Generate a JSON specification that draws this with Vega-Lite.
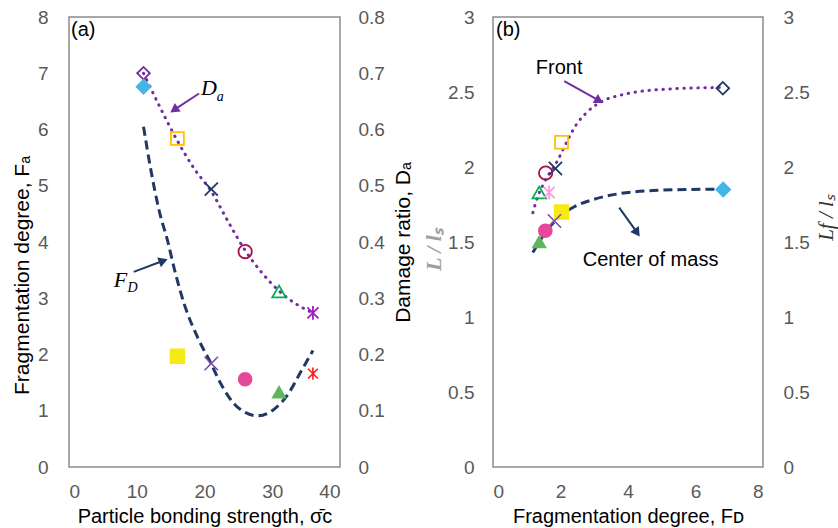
{
  "$schema": "https://vega.github.io/schema/vega-lite/v6.json",
  "padding": {"left": 10, "top": 7, "right": 0, "bottom": 0},
  "config": {
    "font": "Liberation Sans",
    "view": {"stroke": "#8c8c8c", "strokeWidth": 1.5},
    "axis": {"grid": false, "domain": false, "ticks": false, "tickSize": 0, "labelFont": "Liberation Sans", "labelFontSize": 19, "labelColor": "#595959", "titleFont": "Liberation Sans", "titleFontSize": 20, "titleFontWeight": "normal", "titleColor": "#000000"},
    "concat": {"spacing": 6}
  },
  "datasets": {
    "aF": [
      {"s": 11, "F": 6.05}, {"s": 12.1, "F": 5.27}, {"s": 13.3, "F": 4.56}, {"s": 14.6, "F": 4.0}, {"s": 15.55, "F": 3.52},
      {"s": 17.0, "F": 2.9}, {"s": 19.0, "F": 2.3}, {"s": 21.0, "F": 1.83}, {"s": 22.45, "F": 1.47}, {"s": 24.4, "F": 1.12},
      {"s": 26.0, "F": 0.97}, {"s": 27.9, "F": 0.91}, {"s": 30.3, "F": 1.03}, {"s": 32.3, "F": 1.29}, {"s": 34.3, "F": 1.71}, {"s": 36.0, "F": 2.07}
    ],
    "aD": [
      {"s": 11, "D": 0.70}, {"s": 13.5, "D": 0.638}, {"s": 16, "D": 0.58}, {"s": 18.5, "D": 0.53}, {"s": 21, "D": 0.49},
      {"s": 23.5, "D": 0.436}, {"s": 26, "D": 0.385}, {"s": 28.5, "D": 0.345}, {"s": 31, "D": 0.313}, {"s": 33.5, "D": 0.29}, {"s": 36, "D": 0.274}
    ],
    "aFilled": [
      {"s": 11, "F": 6.76, "k": "k11"}, {"s": 16, "F": 1.97, "k": "k16"}, {"s": 21, "F": 1.84, "k": "k21"},
      {"s": 26, "F": 1.56, "k": "k26"}, {"s": 31, "F": 1.33, "k": "k31"}, {"s": 36, "F": 1.66, "k": "k36"}
    ],
    "aOpen": [
      {"s": 11, "D": 0.70, "k": "k11"}, {"s": 16, "D": 0.584, "k": "k16"}, {"s": 21, "D": 0.494, "k": "k21"},
      {"s": 26, "D": 0.383, "k": "k26"}, {"s": 31, "D": 0.312, "k": "k31"}, {"s": 36, "D": 0.274, "k": "k36"}
    ],
    "aArrows": [
      {"s": 19.2, "F": 6.64, "s2": 15.5, "F2": 6.35, "c": "Da"},
      {"s": 9.55, "F": 3.47, "s2": 13.92, "F2": 3.667, "c": "FD"}
    ],
    "aHeadD": [{"s": 15.5, "F": 6.35}],
    "aHeadF": [{"s": 13.92, "F": 3.667}],
    "aBig": [{"s": 19.5, "F": 6.61, "t": "D"}, {"s": 6.6, "F": 3.2, "t": "F"}],
    "aSmall": [{"s": 21.8, "F": 6.51, "t": "a"}, {"s": 8.65, "F": 3.12, "t": "D"}],
    "aTag": [{"s": 0.3, "F": 7.66, "t": "(a)"}],
    "bCenter": [
      {"fd": 1.18, "L": 1.43}, {"fd": 1.37, "L": 1.5}, {"fd": 1.55, "L": 1.565}, {"fd": 1.82, "L": 1.635}, {"fd": 2.06, "L": 1.685},
      {"fd": 2.41, "L": 1.735}, {"fd": 3.0, "L": 1.785}, {"fd": 3.74, "L": 1.822}, {"fd": 4.73, "L": 1.843}, {"fd": 5.7, "L": 1.85}, {"fd": 6.8, "L": 1.852}
    ],
    "bFront": [
      {"fd": 1.18, "L": 1.695}, {"fd": 1.32, "L": 1.8}, {"fd": 1.47, "L": 1.875}, {"fd": 1.62, "L": 1.94}, {"fd": 1.77, "L": 1.99},
      {"fd": 1.92, "L": 2.045}, {"fd": 2.06, "L": 2.11}, {"fd": 2.26, "L": 2.2}, {"fd": 2.46, "L": 2.28}, {"fd": 2.76, "L": 2.36},
      {"fd": 3.25, "L": 2.44}, {"fd": 3.8, "L": 2.48}, {"fd": 4.24, "L": 2.5}, {"fd": 5.22, "L": 2.52}, {"fd": 6.0, "L": 2.527}, {"fd": 6.81, "L": 2.53}
    ],
    "bFilled": [
      {"fd": 6.82, "L": 1.85, "k": "k11"}, {"fd": 2.03, "L": 1.70, "k": "k16"}, {"fd": 1.82, "L": 1.64, "k": "k21"},
      {"fd": 1.55, "L": 1.575, "k": "k26"}, {"fd": 1.37, "L": 1.5, "k": "k31"}
    ],
    "bOpen": [
      {"fd": 6.81, "L": 2.525, "k": "k11"}, {"fd": 2.03, "L": 2.165, "k": "k16"}, {"fd": 1.85, "L": 1.99, "k": "k21"},
      {"fd": 1.56, "L": 1.96, "k": "k26"}, {"fd": 1.37, "L": 1.83, "k": "k31"}, {"fd": 1.66, "L": 1.83, "k": "k36"}
    ],
    "bArrows": [
      {"fd": 2.11, "L": 2.573, "fd2": 3.147, "L2": 2.442, "c": "front"},
      {"fd": 3.74, "L": 1.729, "fd2": 4.27, "L2": 1.562, "c": "center"}
    ],
    "bHeadFront": [{"fd": 3.147, "L": 2.442}],
    "bHeadCenter": [{"fd": 4.27, "L": 1.562}],
    "bText": [{"fd": 1.27, "L": 2.622, "t": "Front"}, {"fd": 2.66, "L": 1.34, "t": "Center of mass"}, {"fd": 0.09, "L": 2.873, "t": "(b)"}]
  },
  "hconcat": [
    {
      "width": 271,
      "height": 450,
      "layer": [
        {
          "data": {"name": "aF"},
          "mark": {"type": "line", "color": "#1f3864", "strokeWidth": 3, "strokeDash": [9, 5], "interpolate": "monotone"},
          "encoding": {
            "x": {"field": "s", "type": "quantitative", "scale": {"domain": [0, 40]}, "axis": {"values": [0, 10, 20, 30, 40], "title": "Particle bonding strength,  σ̄ᴄ", "labelPadding": 15, "titlePadding": 5}},
            "y": {"field": "F", "type": "quantitative", "scale": {"domain": [0, 8]}, "axis": {"orient": "left", "values": [0, 1, 2, 3, 4, 5, 6, 7, 8], "title": "Fragmentation degree,   Fₐ", "titleFontSize": 21, "labelPadding": 21, "titlePadding": 5, "titleY": 258}}
          }
        },
        {
          "data": {"name": "aD"},
          "mark": {"type": "line", "color": "#7030a0", "strokeWidth": 3, "strokeDash": [0.5, 6.5], "strokeCap": "round", "interpolate": "monotone"},
          "encoding": {
            "x": {"field": "s", "type": "quantitative", "scale": {"domain": [0, 40]}},
            "y": {"field": "D", "type": "quantitative", "scale": {"domain": [0, 0.8]}, "axis": {"orient": "right", "values": [0, 0.1, 0.2, 0.3, 0.4, 0.5, 0.6, 0.7, 0.8], "format": "~g", "title": "Damage ratio,  Dₐ", "titleFontSize": 21, "titleAngle": 270, "titleBaseline": "top", "labelPadding": 18, "titlePadding": 8}}
          }
        },
        {
          "data": {"name": "aOpen"},
          "mark": {"type": "point", "filled": false, "strokeWidth": 1.8, "opacity": 1},
          "encoding": {
            "x": {"field": "s", "type": "quantitative", "scale": {"domain": [0, 40]}},
            "y": {"field": "D", "type": "quantitative", "scale": {"domain": [0, 0.8]}, "axis": null},
            "shape": {"field": "k", "type": "nominal", "legend": null, "scale": {"domain": ["k11", "k16", "k21", "k26", "k31", "k36"], "range": ["diamond", "square", "M-1,-1L1,1M-1,1L1,-1", "circle", "triangle-up", "M-0.8,-0.8L0.8,0.8M-0.8,0.8L0.8,-0.8M0,-1L0,1"]}},
            "stroke": {"field": "k", "type": "nominal", "legend": null, "scale": {"domain": ["k11", "k16", "k21", "k26", "k31", "k36"], "range": ["#7030a0", "#ffc000", "#1f3864", "#a5114a", "#00b050", "#a020c0"]}},
            "size": {"field": "k", "type": "nominal", "legend": null, "scale": {"domain": ["k11", "k16", "k21", "k26", "k31", "k36"], "range": [160, 190, 196, 220, 230, 210]}}
          }
        },
        {
          "data": {"name": "aFilled"},
          "mark": {"type": "point", "filled": true, "strokeWidth": 1.6, "opacity": 1},
          "encoding": {
            "x": {"field": "s", "type": "quantitative", "scale": {"domain": [0, 40]}},
            "y": {"field": "F", "type": "quantitative", "scale": {"domain": [0, 8]}, "axis": null},
            "shape": {"field": "k", "type": "nominal", "legend": null, "scale": {"domain": ["k11", "k16", "k21", "k26", "k31", "k36"], "range": ["diamond", "square", "M-1,-1L1,1M-1,1L1,-1", "circle", "triangle-up", "M-0.8,-0.8L0.8,0.8M-0.8,0.8L0.8,-0.8M0,-1L0,1"]}},
            "fill": {"field": "k", "type": "nominal", "legend": null, "scale": {"domain": ["k11", "k16", "k21", "k26", "k31", "k36"], "range": ["#45b5e8", "#f5ea14", "#7b4aa8", "#e6479a", "#5cb85c", "#ff1a1a"]}},
            "stroke": {"field": "k", "type": "nominal", "legend": null, "scale": {"domain": ["k11", "k16", "k21", "k26", "k31", "k36"], "range": ["#45b5e8", "#f5ea14", "#7b4aa8", "#e6479a", "#5cb85c", "#ff1a1a"]}},
            "size": {"field": "k", "type": "nominal", "legend": null, "scale": {"domain": ["k11", "k16", "k21", "k26", "k31", "k36"], "range": [200, 150, 196, 200, 220, 210]}}
          }
        },
        {
          "data": {"name": "aArrows"},
          "mark": {"type": "rule", "strokeWidth": 2},
          "encoding": {
            "x": {"field": "s", "type": "quantitative", "scale": {"domain": [0, 40]}},
            "x2": {"field": "s2"},
            "y": {"field": "F", "type": "quantitative", "scale": {"domain": [0, 8]}, "axis": null},
            "y2": {"field": "F2"},
            "color": {"field": "c", "type": "nominal", "legend": null, "scale": {"domain": ["Da", "FD"], "range": ["#7030a0", "#1f3864"]}}
          }
        },
        {
          "data": {"name": "aHeadD"},
          "mark": {"type": "point", "shape": "triangle-up", "filled": true, "color": "#7030a0", "size": 110, "angle": 235.6, "opacity": 1},
          "encoding": {
            "x": {"field": "s", "type": "quantitative", "scale": {"domain": [0, 40]}},
            "y": {"field": "F", "type": "quantitative", "scale": {"domain": [0, 8]}, "axis": null}
          }
        },
        {
          "data": {"name": "aHeadF"},
          "mark": {"type": "point", "shape": "triangle-up", "filled": true, "color": "#1f3864", "size": 110, "angle": 69.6, "opacity": 1},
          "encoding": {
            "x": {"field": "s", "type": "quantitative", "scale": {"domain": [0, 40]}},
            "y": {"field": "F", "type": "quantitative", "scale": {"domain": [0, 8]}, "axis": null}
          }
        },
        {
          "data": {"name": "aBig"},
          "mark": {"type": "text", "font": "Liberation Serif", "fontStyle": "italic", "fontSize": 22, "align": "left", "baseline": "alphabetic", "color": "#000000"},
          "encoding": {
            "x": {"field": "s", "type": "quantitative", "scale": {"domain": [0, 40]}},
            "y": {"field": "F", "type": "quantitative", "scale": {"domain": [0, 8]}, "axis": null},
            "text": {"field": "t"}
          }
        },
        {
          "data": {"name": "aSmall"},
          "mark": {"type": "text", "font": "Liberation Serif", "fontStyle": "italic", "fontSize": 14, "align": "left", "baseline": "alphabetic", "color": "#000000"},
          "encoding": {
            "x": {"field": "s", "type": "quantitative", "scale": {"domain": [0, 40]}},
            "y": {"field": "F", "type": "quantitative", "scale": {"domain": [0, 8]}, "axis": null},
            "text": {"field": "t"}
          }
        },
        {
          "data": {"name": "aTag"},
          "mark": {"type": "text", "font": "Liberation Sans", "fontSize": 20, "align": "left", "baseline": "alphabetic", "color": "#000000"},
          "encoding": {
            "x": {"field": "s", "type": "quantitative", "scale": {"domain": [0, 40]}},
            "y": {"field": "F", "type": "quantitative", "scale": {"domain": [0, 8]}, "axis": null},
            "text": {"field": "t"}
          }
        }
      ],
      "resolve": {"scale": {"y": "independent", "shape": "independent", "fill": "independent", "stroke": "independent", "size": "independent", "color": "independent"}, "axis": {"y": "independent"}}
    },
    {
      "width": 270,
      "height": 450,
      "layer": [
        {
          "data": {"name": "bCenter"},
          "mark": {"type": "line", "color": "#1f3864", "strokeWidth": 3, "strokeDash": [9, 5], "interpolate": "monotone"},
          "encoding": {
            "x": {"field": "fd", "type": "quantitative", "scale": {"domain": [0, 8]}, "axis": {"values": [0, 2, 4, 6, 8], "title": "Fragmentation degree,  Fᴅ", "labelPadding": 15, "titlePadding": 5}},
            "y": {"field": "L", "type": "quantitative", "scale": {"domain": [0, 3]}, "axis": {"orient": "left", "values": [0, 0.5, 1, 1.5, 2, 2.5, 3], "format": "~g", "title": "L / lₛ", "titleFont": "Liberation Serif", "titleFontStyle": "italic", "titleFontWeight": "bold", "titleFontSize": 22, "titleColor": "#a0a0a0", "titleY": 232, "labelPadding": 19, "titlePadding": 2}}
          }
        },
        {
          "data": {"name": "bFront"},
          "mark": {"type": "line", "color": "#7030a0", "strokeWidth": 3, "strokeDash": [0.5, 6.5], "strokeCap": "round", "interpolate": "monotone"},
          "encoding": {
            "x": {"field": "fd", "type": "quantitative", "scale": {"domain": [0, 8]}},
            "y": {"field": "L", "type": "quantitative", "scale": {"domain": [0, 3]}, "axis": {"orient": "right", "values": [0, 0.5, 1, 1.5, 2, 2.5, 3], "format": "~g", "title": "Lf / lₛ", "titleFont": "Liberation Serif", "titleFontStyle": "italic", "titleFontSize": 21, "titleColor": "#333333", "titleAngle": 270, "titleBaseline": "top", "titleY": 200, "labelPadding": 20, "titlePadding": 6}}
          }
        },
        {
          "data": {"name": "bOpen"},
          "mark": {"type": "point", "filled": false, "strokeWidth": 1.8, "opacity": 1},
          "encoding": {
            "x": {"field": "fd", "type": "quantitative", "scale": {"domain": [0, 8]}},
            "y": {"field": "L", "type": "quantitative", "scale": {"domain": [0, 3]}, "axis": null},
            "shape": {"field": "k", "type": "nominal", "legend": null, "scale": {"domain": ["k11", "k16", "k21", "k26", "k31", "k36"], "range": ["diamond", "square", "M-1,-1L1,1M-1,1L1,-1", "circle", "triangle-up", "M-0.8,-0.8L0.8,0.8M-0.8,0.8L0.8,-0.8M0,-1L0,1"]}},
            "stroke": {"field": "k", "type": "nominal", "legend": null, "scale": {"domain": ["k11", "k16", "k21", "k26", "k31", "k36"], "range": ["#1f3864", "#ffc000", "#1f3864", "#a5114a", "#00b050", "#ff99dd"]}},
            "size": {"field": "k", "type": "nominal", "legend": null, "scale": {"domain": ["k11", "k16", "k21", "k26", "k31", "k36"], "range": [160, 190, 196, 220, 230, 210]}}
          }
        },
        {
          "data": {"name": "bFilled"},
          "mark": {"type": "point", "filled": true, "strokeWidth": 1.6, "opacity": 1},
          "encoding": {
            "x": {"field": "fd", "type": "quantitative", "scale": {"domain": [0, 8]}},
            "y": {"field": "L", "type": "quantitative", "scale": {"domain": [0, 3]}, "axis": null},
            "shape": {"field": "k", "type": "nominal", "legend": null, "scale": {"domain": ["k11", "k16", "k21", "k26", "k31", "k36"], "range": ["diamond", "square", "M-1,-1L1,1M-1,1L1,-1", "circle", "triangle-up", "M-0.8,-0.8L0.8,0.8M-0.8,0.8L0.8,-0.8M0,-1L0,1"]}},
            "fill": {"field": "k", "type": "nominal", "legend": null, "scale": {"domain": ["k11", "k16", "k21", "k26", "k31", "k36"], "range": ["#45b5e8", "#f5ea14", "#7b4aa8", "#e6479a", "#5cb85c", "#ff1a1a"]}},
            "stroke": {"field": "k", "type": "nominal", "legend": null, "scale": {"domain": ["k11", "k16", "k21", "k26", "k31", "k36"], "range": ["#45b5e8", "#f5ea14", "#7b4aa8", "#e6479a", "#5cb85c", "#ff1a1a"]}},
            "size": {"field": "k", "type": "nominal", "legend": null, "scale": {"domain": ["k11", "k16", "k21", "k26", "k31", "k36"], "range": [200, 150, 196, 200, 220, 210]}}
          }
        },
        {
          "data": {"name": "bArrows"},
          "mark": {"type": "rule", "strokeWidth": 2},
          "encoding": {
            "x": {"field": "fd", "type": "quantitative", "scale": {"domain": [0, 8]}},
            "x2": {"field": "fd2"},
            "y": {"field": "L", "type": "quantitative", "scale": {"domain": [0, 3]}, "axis": null},
            "y2": {"field": "L2"},
            "color": {"field": "c", "type": "nominal", "legend": null, "scale": {"domain": ["front", "center"], "range": ["#7030a0", "#1f3864"]}}
          }
        },
        {
          "data": {"name": "bHeadFront"},
          "mark": {"type": "point", "shape": "triangle-up", "filled": true, "color": "#7030a0", "size": 110, "angle": 119.5, "opacity": 1},
          "encoding": {
            "x": {"field": "fd", "type": "quantitative", "scale": {"domain": [0, 8]}},
            "y": {"field": "L", "type": "quantitative", "scale": {"domain": [0, 3]}, "axis": null}
          }
        },
        {
          "data": {"name": "bHeadCenter"},
          "mark": {"type": "point", "shape": "triangle-up", "filled": true, "color": "#1f3864", "size": 110, "angle": 144.8, "opacity": 1},
          "encoding": {
            "x": {"field": "fd", "type": "quantitative", "scale": {"domain": [0, 8]}},
            "y": {"field": "L", "type": "quantitative", "scale": {"domain": [0, 3]}, "axis": null}
          }
        },
        {
          "data": {"name": "bText"},
          "mark": {"type": "text", "font": "Liberation Sans", "fontSize": 20, "align": "left", "baseline": "alphabetic", "color": "#000000"},
          "encoding": {
            "x": {"field": "fd", "type": "quantitative", "scale": {"domain": [0, 8]}},
            "y": {"field": "L", "type": "quantitative", "scale": {"domain": [0, 3]}, "axis": null},
            "text": {"field": "t"}
          }
        }
      ],
      "resolve": {"scale": {"y": "independent", "shape": "independent", "fill": "independent", "stroke": "independent", "size": "independent", "color": "independent"}, "axis": {"y": "independent"}}
    }
  ]
}
